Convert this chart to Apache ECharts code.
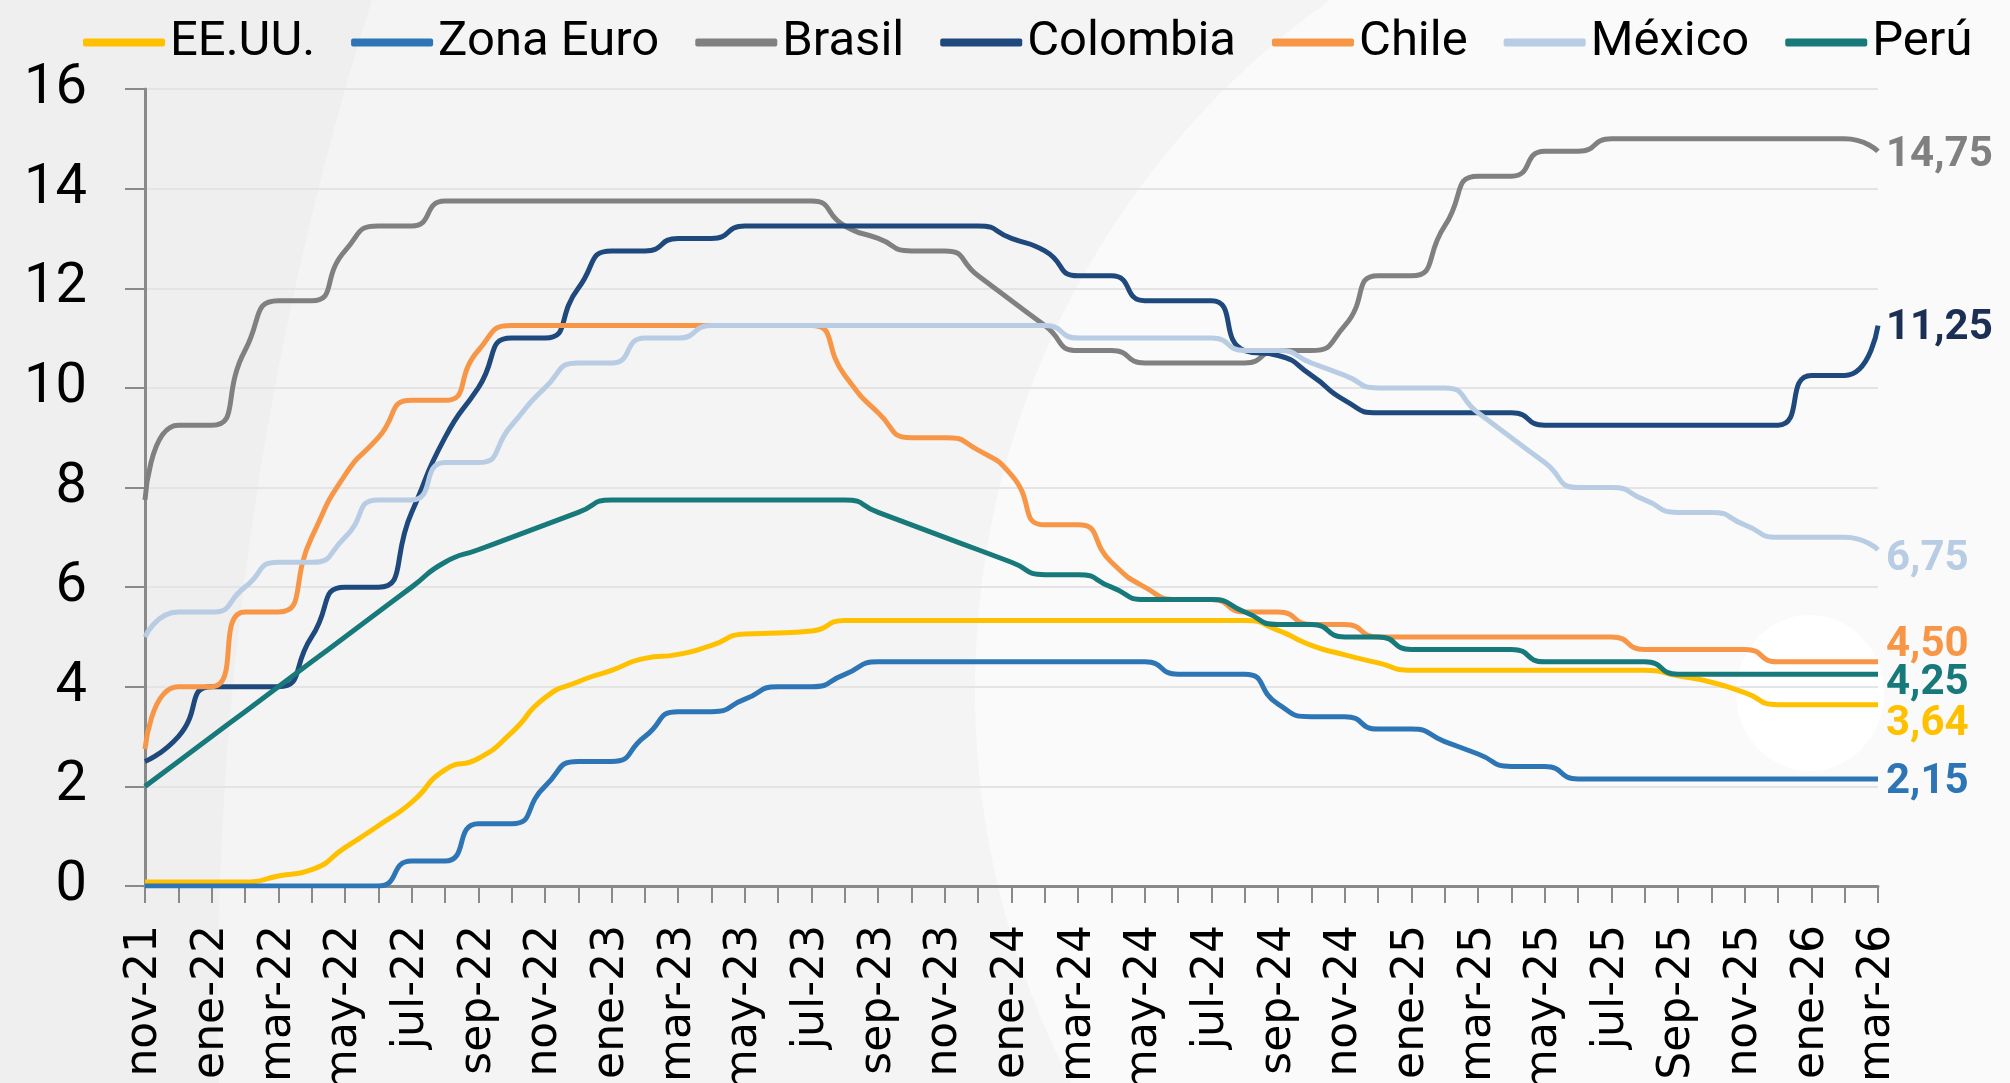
<!DOCTYPE html>
<html>
<head>
<meta charset="utf-8">
<script src="https://cdn.jsdelivr.net/npm/echarts/dist/echarts.min.js"></script>
<style>
  html, body { margin: 0; padding: 0; background: #efefef; }
  #chart { width: 2010px; height: 1083px; }
</style>
</head>
<body>
<div id="chart"></div>
<script>
var months = ['nov-21','dic-21','ene-22','feb-22','mar-22','abr-22','may-22','jun-22','jul-22','ago-22',
  'sep-22','oct-22','nov-22','dic-22','ene-23','feb-23','mar-23','abr-23','may-23','jun-23',
  'jul-23','ago-23','sep-23','oct-23','nov-23','dic-23','ene-24','feb-24','mar-24','abr-24',
  'may-24','jun-24','jul-24','ago-24','sep-24','oct-24','nov-24','dic-24','ene-25','feb-25',
  'mar-25','abr-25','may-25','jun-25','jul-25','ago-25','Sep-25','oct-25','nov-25','dic-25',
  'ene-26','feb-26','mar-26'];

var eeuu = [0.08,0.08,0.08,0.08,0.20,0.33,0.77,1.21,1.68,2.33,
  2.56,3.08,3.78,4.10,4.33,4.57,4.65,4.83,5.06,5.08,
  5.12,5.33,5.33,5.33,5.33,5.33,5.33,5.33,5.33,5.33,
  5.33,5.33,5.33,5.33,5.13,4.83,4.64,4.48,4.33,4.33,
  4.33,4.33,4.33,4.33,4.33,4.33,4.22,4.09,3.88,3.64,
  3.64,3.64,3.64];

var zonaEuro = [0,0,0,0,0,0,0,0,0.5,0.5,
  1.25,1.25,2.0,2.5,2.5,3.0,3.5,3.5,3.75,4.0,
  4.0,4.25,4.5,4.5,4.5,4.5,4.5,4.5,4.5,4.5,
  4.5,4.25,4.25,4.25,3.65,3.4,3.4,3.15,3.15,2.9,
  2.65,2.4,2.4,2.15,2.15,2.15,2.15,2.15,2.15,2.15,
  2.15,2.15,2.15];

var brasil = [7.75,9.25,9.25,10.75,11.75,11.75,12.75,13.25,13.25,13.75,
  13.75,13.75,13.75,13.75,13.75,13.75,13.75,13.75,13.75,13.75,
  13.75,13.25,13.0,12.75,12.75,12.25,11.75,11.25,10.75,10.75,
  10.5,10.5,10.5,10.5,10.75,10.75,11.25,12.25,12.25,13.25,
  14.25,14.25,14.75,14.75,15.0,15.0,15.0,15.0,15.0,15.0,
  15.0,15.0,14.75];

var colombia = [2.5,3.0,4.0,4.0,4.0,5.0,6.0,6.0,7.5,9.0,
  10.0,11.0,11.0,12.0,12.75,12.75,13.0,13.0,13.25,13.25,
  13.25,13.25,13.25,13.25,13.25,13.25,13.0,12.75,12.25,12.25,
  11.75,11.75,11.75,10.75,10.65,10.25,9.75,9.5,9.5,9.5,
  9.5,9.5,9.25,9.25,9.25,9.25,9.25,9.25,9.25,9.25,
  10.25,10.25,11.25];

var chile = [2.75,4.0,4.0,5.5,5.5,7.0,8.25,9.0,9.75,9.75,
  10.75,11.25,11.25,11.25,11.25,11.25,11.25,11.25,11.25,11.25,
  11.25,10.25,9.5,9.0,9.0,8.75,8.25,7.25,7.25,6.5,
  6.0,5.75,5.75,5.5,5.5,5.25,5.25,5.0,5.0,5.0,
  5.0,5.0,5.0,5.0,5.0,4.75,4.75,4.75,4.75,4.5,
  4.5,4.5,4.5];

var mexico = [5.0,5.5,5.5,6.0,6.5,6.5,7.0,7.75,7.75,8.5,
  8.5,9.25,10.0,10.5,10.5,11.0,11.0,11.25,11.25,11.25,
  11.25,11.25,11.25,11.25,11.25,11.25,11.25,11.25,11.0,11.0,
  11.0,11.0,11.0,10.75,10.75,10.5,10.25,10.0,10.0,10.0,
  9.5,9.0,8.5,8.0,8.0,7.75,7.5,7.5,7.25,7.0,
  7.0,7.0,6.75];

var peru = [2.0,2.5,3.0,3.5,4.0,4.5,5.0,5.5,6.0,6.5,
  6.75,7.0,7.25,7.5,7.75,7.75,7.75,7.75,7.75,7.75,
  7.75,7.75,7.5,7.25,7.0,6.75,6.5,6.25,6.25,6.0,
  5.75,5.75,5.75,5.5,5.25,5.25,5.0,5.0,4.75,4.75,
  4.75,4.75,4.5,4.5,4.5,4.5,4.25,4.25,4.25,4.25,
  4.25,4.25,4.25];

var yTicks = [0, 2, 4, 6, 8, 10, 12, 14, 16];

function makeSeries(name, data, color, labelColor, offset) {
  return {
    name: name,
    type: 'line',
    data: data,
    smooth: 0.6,
    symbol: 'none',
    lineStyle: { width: 5, color: color },
    itemStyle: { color: color },
    endLabel: {
      show: true,
      distance: 8,
      offset: offset,
      color: labelColor,
      fontFamily: 'Roboto',
      fontSize: 42,
      fontWeight: 'bold',
      formatter: function (p) { return p.value.toFixed(2).replace('.', ','); }
    }
  };
}

var chart = echarts.init(document.getElementById('chart'));
chart.setOption({
  animation: false,
  backgroundColor: '#efefef',
  graphic: [
    { type: 'circle', silent: true, z: -10, shape: { cx: 3542, cy: 1000, r: 3324 }, style: { fill: '#f4f4f4' } },
    { type: 'circle', silent: true, z: -9, shape: { cx: 1823, cy: 690, r: 848 }, style: { fill: '#fafafa' } },
    { type: 'ellipse', silent: true, z: -8, shape: { cx: 1810, cy: 693, rx: 74, ry: 78 }, style: { fill: '#ffffff' } }
  ],
  legend: {
    top: 13,
    left: 78,
    icon: 'roundRect',
    itemWidth: 82,
    itemHeight: 8,
    itemGap: 36,
    textStyle: { fontFamily: 'Roboto', fontSize: 49, color: '#000' },
    data: ['EE.UU.', 'Zona Euro', 'Brasil', 'Colombia', 'Chile', 'México', 'Perú']
  },
  grid: { left: 145, right: 132, top: 89, bottom: 197, containLabel: false, outerBoundsMode: 'none' },
  xAxis: {
    type: 'category',
    boundaryGap: false,
    data: months,
    axisLine: { lineStyle: { color: '#898989', width: 3 } },
    axisTick: { show: true, interval: 0, length: 17, lineStyle: { color: '#898989', width: 2 } },
    axisLabel: {
      interval: 1,
      rotate: 90,
      margin: 39,
      fontFamily: 'DejaVu Sans',
      fontSize: 44,
      color: '#000'
    },
    splitLine: { show: false }
  },
  yAxis: {
    type: 'value',
    min: yTicks[0],
    max: yTicks[yTicks.length - 1],
    interval: 2,
    axisLine: { show: true, lineStyle: { color: '#898989', width: 3 } },
    axisTick: { show: true, length: 20, lineStyle: { color: '#898989', width: 2 } },
    axisLabel: { margin: 58, fontFamily: 'Roboto', fontSize: 56, color: '#000' },
    splitLine: { lineStyle: { color: '#e4e4e4', width: 2 } }
  },
  series: [
    makeSeries('EE.UU.', eeuu, '#FFC000', '#FFC000', [0, 20]),
    makeSeries('Zona Euro', zonaEuro, '#2E75B6', '#2E75B6', [0, 4]),
    makeSeries('Brasil', brasil, '#808080', '#808080', [0, 4]),
    makeSeries('Colombia', colombia, '#1F497D', '#1B2F55', [0, 3]),
    makeSeries('Chile', chile, '#F79646', '#F79646', [0, -16]),
    makeSeries('México', mexico, '#B8CCE4', '#B8CCE4', [0, 10]),
    makeSeries('Perú', peru, '#17797A', '#17797A', [0, 9])
  ]
});
</script>
</body>
</html>
